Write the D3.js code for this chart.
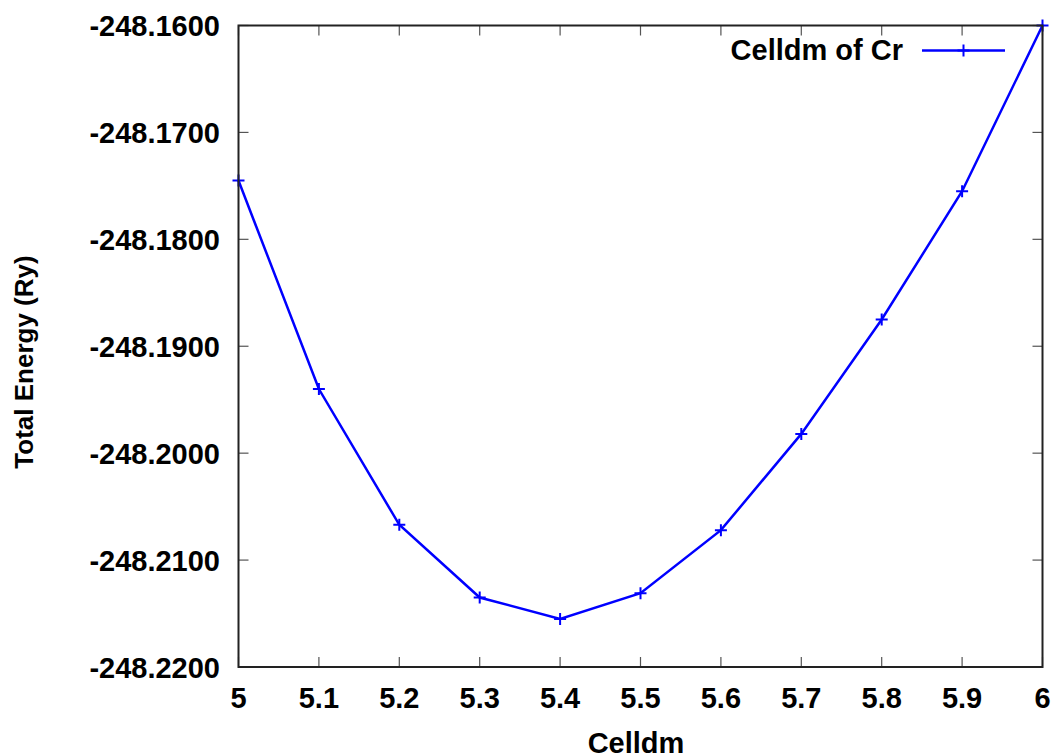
<!DOCTYPE html>
<html>
<head>
<meta charset="utf-8">
<script src="https://cdn.jsdelivr.net/npm/d3@7"></script>
<style>
  body { margin: 0; background: #fff; }
  text { font-family: "Liberation Sans", Arial, sans-serif; font-weight: bold; fill: #000; }
</style>
</head>
<body>
<svg id="chart"></svg>
<script>
// Chart size
const width = 1056;
const height = 755;

// Data
const celldm = [5.0, 5.1, 5.2, 5.3, 5.4, 5.5, 5.6, 5.7, 5.8, 5.9, 6.0];
const energy = [-248.1745, -248.1940, -248.2067, -248.2135, -248.2155, -248.2131,
                -248.2072, -248.1982, -248.1875, -248.1755, -248.1600];
const xTicks = [5, 5.1, 5.2, 5.3, 5.4, 5.5, 5.6, 5.7, 5.8, 5.9, 6];
const yTicks = [-248.22, -248.21, -248.20, -248.19, -248.18, -248.17, -248.16];
const seriesName = "Celldm of Cr";

const data = celldm.map((c, i) => ({ x: c, y: energy[i] }));

const margin = { left: 238.5, right: 1042.5, top: 25.5, bottom: 667 };

const xScale = d3.scaleLinear().domain([5, 6]).range([margin.left, margin.right]);
const yScale = d3.scaleLinear().domain([-248.22, -248.16]).range([margin.bottom, margin.top]);

const svg = d3.select("#chart").attr("width", width).attr("height", height);

// Ticks, inward on all four sides
const tickLen = 10;
const tickG = svg.append("g").attr("stroke", "#555").attr("stroke-width", 1.2);
xTicks.forEach((t) => {
  tickG.append("line").attr("x1", xScale(t)).attr("x2", xScale(t))
    .attr("y1", margin.bottom).attr("y2", margin.bottom - tickLen);
  tickG.append("line").attr("x1", xScale(t)).attr("x2", xScale(t))
    .attr("y1", margin.top).attr("y2", margin.top + tickLen);
});
yTicks.forEach((t) => {
  tickG.append("line").attr("x1", margin.left).attr("x2", margin.left + tickLen)
    .attr("y1", yScale(t)).attr("y2", yScale(t));
  tickG.append("line").attr("x1", margin.right).attr("x2", margin.right - tickLen)
    .attr("y1", yScale(t)).attr("y2", yScale(t));
});

// Tick labels
svg.append("g").selectAll("text").data(xTicks).enter().append("text")
  .attr("x", (d) => xScale(d)).attr("y", 708)
  .attr("text-anchor", "middle").attr("font-size", 29)
  .text((d) => d3.format("")(d));

svg.append("g").selectAll("text").data(yTicks).enter().append("text")
  .attr("x", 220).attr("y", (d) => yScale(d) + 10.5)
  .attr("text-anchor", "end").attr("font-size", 29)
  .text((d) => d.toFixed(4));

// Axis labels
svg.append("text").attr("x", 636).attr("y", 753)
  .attr("text-anchor", "middle").attr("font-size", 29).text("Celldm");

svg.append("text")
  .attr("transform", "translate(33,362) rotate(-90)")
  .attr("text-anchor", "middle").attr("font-size", 26).text("Total Energy (Ry)");

// Series line
const line = d3.line().x((d) => xScale(d.x)).y((d) => yScale(d.y));
svg.append("path").datum(data)
  .attr("fill", "none").attr("stroke", "#0000ff").attr("stroke-width", 2.5)
  .attr("d", line);

// Plus markers
const m = 6;
svg.append("g").selectAll("path").data(data).enter().append("path")
  .attr("stroke", "#0000ff").attr("stroke-width", 2)
  .attr("d", (d) => {
    const px = xScale(d.x), py = yScale(d.y);
    return `M${px - m},${py}H${px + m}M${px},${py - m}V${py + m}`;
  });

// Frame
svg.append("rect")
  .attr("x", margin.left).attr("y", margin.top)
  .attr("width", margin.right - margin.left).attr("height", margin.bottom - margin.top)
  .attr("fill", "none").attr("stroke", "#222").attr("stroke-width", 2);

// Legend
svg.append("text").attr("x", 903).attr("y", 60)
  .attr("text-anchor", "end").attr("font-size", 29).text(seriesName);
svg.append("line").attr("x1", 922).attr("x2", 1005).attr("y1", 50.5).attr("y2", 50.5)
  .attr("stroke", "#0000ff").attr("stroke-width", 2.5);
svg.append("path").attr("stroke", "#0000ff").attr("stroke-width", 2)
  .attr("d", `M${963.5 - m},50.5H${963.5 + m}M963.5,${50.5 - m}V${50.5 + m}`);
</script>
</body>
</html>
